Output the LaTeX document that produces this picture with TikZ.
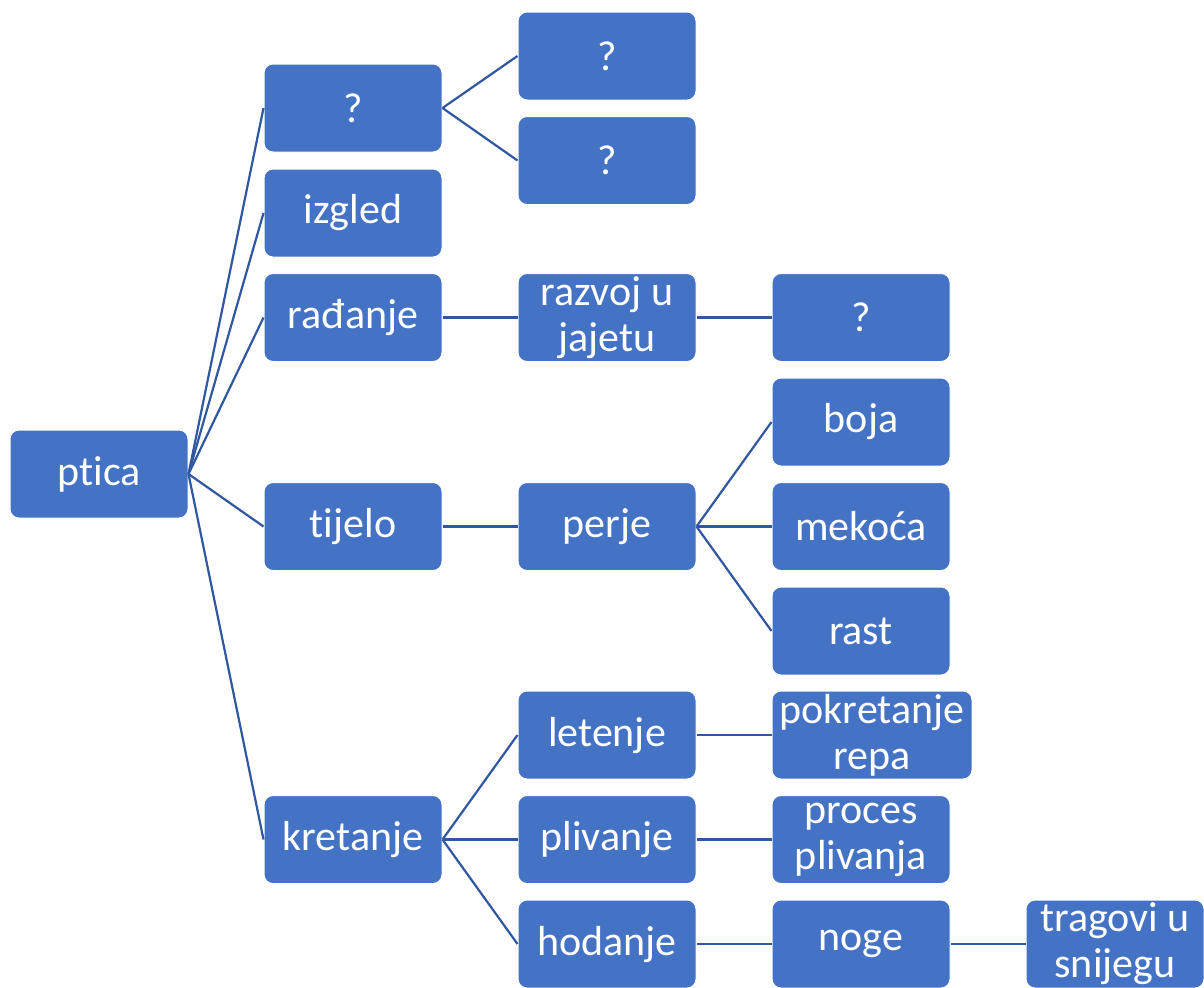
\documentclass[tikz,border=0pt]{standalone}
\usepackage{fontspec}
\setmainfont{Carlito}[Ligatures=NoCommon]
\definecolor{boxblue}{HTML}{4472C4}
\definecolor{lineblue}{HTML}{3057A0}
\begin{document}
\begin{tikzpicture}[x=0.5pt,y=-0.5pt,
  box/.style={draw=white, line width=0.5pt, fill=boxblue, rounded corners=4.5pt,
    minimum width=89pt, minimum height=44pt, inner sep=0pt, align=center,
    text=white, font=\fontsize{21pt}{23pt}\selectfont},
  conn/.style={draw=lineblue, line width=1.1pt}]
\useasboundingbox (0,0) rectangle (1204,987);
% column 1
\node[box] (ptica) at (99,474) {ptica};
% column 2
\node[box] (q1) at (353,108) {?};
\node[box] (izgled) at (353,213) {izgled};
\node[box] (radjanje) at (353,317.5) {rađanje};
\node[box] (tijelo) at (353,526.5) {tijelo};
\node[box] (kretanje) at (353,839.5) {kretanje};
% column 3
\node[box] (q2) at (607,56) {?};
\node[box] (q3) at (607,160.5) {?};
\node[box] (razvoj) at (607,317.5) {razvoj u\\jajetu};
\node[box] (perje) at (607,526.5) {perje};
\node[box] (letenje) at (607,735) {letenje};
\node[box] (plivanje) at (607,839.5) {plivanje};
\node[box] (hodanje) at (607,944) {hodanje};
% column 4
\node[box] (q4) at (861,317.5) {?};
\node[box] (boja) at (861,422) {boja};
\node[box] (mekoca) at (861,526.5) {mekoća};
\node[box] (rast) at (861,631) {rast};
\node[box, minimum width=100pt] (pokretanje) at (872,735) {pokretanje\\repa};
\node[box] (proces) at (861,839.5) {proces\\plivanja};
\node[box] (noge) at (861,944) {noge};
% column 5
\node[box] (tragovi) at (1115,944) {tragovi u\\snijegu};
% connectors
\foreach \c in {q1,izgled,radjanje,tijelo,kretanje}
  \draw[conn] (ptica.east) -- (\c.west);
\draw[conn] (q1.east) -- (q2.west);
\draw[conn] (q1.east) -- (q3.west);
\draw[conn] (radjanje.east) -- (razvoj.west);
\draw[conn] (razvoj.east) -- (q4.west);
\draw[conn] (tijelo.east) -- (perje.west);
\foreach \c in {boja,mekoca,rast}
  \draw[conn] (perje.east) -- (\c.west);
\foreach \c in {letenje,plivanje,hodanje}
  \draw[conn] (kretanje.east) -- (\c.west);
\draw[conn] (letenje.east) -- (pokretanje.west);
\draw[conn] (plivanje.east) -- (proces.west);
\draw[conn] (hodanje.east) -- (noge.west);
\draw[conn] (noge.east) -- (tragovi.west);
\end{tikzpicture}
\end{document}
